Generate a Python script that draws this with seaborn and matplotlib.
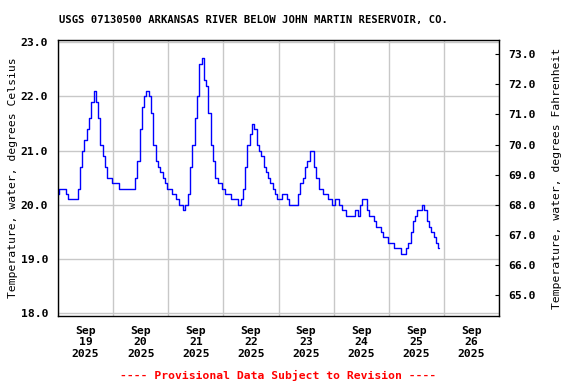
import pandas as pd
import matplotlib
matplotlib.use("Agg")
import matplotlib.pyplot as plt
import matplotlib.dates as mdates
import matplotlib.ticker as mticker
import seaborn as sns

# hourly water temperature (deg C), starting Sep 19 2025 00:00
start = "2025-09-19 00:00"
temp_c = [
    # Sep 19
    20.2, 20.3, 20.3, 20.3, 20.2, 20.1, 20.1, 20.1, 20.1, 20.3, 20.7, 21.0,
    21.2, 21.4, 21.6, 21.9, 22.1, 21.9, 21.6, 21.1, 20.9, 20.7, 20.5, 20.5,
    # Sep 20
    20.4, 20.4, 20.4, 20.3, 20.3, 20.3, 20.3, 20.3, 20.3, 20.3, 20.5, 20.8,
    21.4, 21.8, 22.0, 22.1, 22.0, 21.7, 21.1, 20.8, 20.7, 20.6, 20.5, 20.4,
    # Sep 21
    20.3, 20.3, 20.2, 20.2, 20.1, 20.0, 20.0, 19.9, 20.0, 20.2, 20.7, 21.1,
    21.6, 22.0, 22.6, 22.7, 22.3, 22.2, 21.7, 21.1, 20.8, 20.5, 20.4, 20.4,
    # Sep 22
    20.3, 20.2, 20.2, 20.2, 20.1, 20.1, 20.1, 20.0, 20.1, 20.3, 20.7, 21.1,
    21.3, 21.5, 21.4, 21.1, 21.0, 20.9, 20.7, 20.6, 20.5, 20.4, 20.3, 20.2,
    # Sep 23
    20.1, 20.1, 20.2, 20.2, 20.1, 20.0, 20.0, 20.0, 20.0, 20.2, 20.4, 20.5,
    20.7, 20.8, 21.0, 21.0, 20.7, 20.5, 20.3, 20.3, 20.2, 20.2, 20.1, 20.1,
    # Sep 24
    20.0, 20.1, 20.1, 20.0, 19.9, 19.9, 19.8, 19.8, 19.8, 19.8, 19.9, 19.8,
    20.0, 20.1, 20.1, 19.9, 19.8, 19.8, 19.7, 19.6, 19.6, 19.5, 19.4, 19.4,
    # Sep 25
    19.3, 19.3, 19.3, 19.2, 19.2, 19.2, 19.1, 19.1, 19.2, 19.3, 19.5, 19.7,
    19.8, 19.9, 19.9, 20.0, 19.9, 19.7, 19.6, 19.5, 19.4, 19.3, 19.2,
]
day_labels = ["Sep\n19\n2025", "Sep\n20\n2025", "Sep\n21\n2025", "Sep\n22\n2025",
              "Sep\n23\n2025", "Sep\n24\n2025", "Sep\n25\n2025", "Sep\n26\n2025"]
title = "USGS 07130500 ARKANSAS RIVER BELOW JOHN MARTIN RESERVOIR, CO."
c_ticks = [18.0, 19.0, 20.0, 21.0, 22.0, 23.0]
f_ticks = [65.0, 66.0, 67.0, 68.0, 69.0, 70.0, 71.0, 72.0, 73.0]

df = pd.DataFrame({
    "time": pd.date_range(start, periods=len(temp_c), freq="h"),
    "temp": temp_c,
})

sns.set_style("white")
plt.rcParams["font.family"] = ["DejaVu Sans Mono"]
plt.rcParams["font.weight"] = "bold"
plt.rcParams["text.color"] = "black"
plt.rcParams["axes.labelcolor"] = "black"
plt.rcParams["xtick.color"] = "black"
plt.rcParams["ytick.color"] = "black"

fig = plt.figure(figsize=(5.76, 3.84), dpi=100)
ax = fig.add_axes([58 / 576, 1 - 316 / 384, 441 / 576, 276 / 384])

sns.lineplot(data=df, x="time", y="temp", ax=ax, color="#0000ff",
             linewidth=1.0, estimator=None, drawstyle="steps-mid")

ylo, yhi = 17.95, 23.04
ax.set_ylim(ylo, yhi)
ax.set_xlim(pd.Timestamp("2025-09-19"), pd.Timestamp("2025-09-27"))

# grid at midnight, labels at noon
ax.xaxis.set_major_locator(mdates.DayLocator())
ax.xaxis.set_major_formatter(mticker.NullFormatter())
ax.xaxis.set_minor_locator(mdates.HourLocator(byhour=12))
ax.xaxis.set_minor_formatter(mticker.FixedFormatter(day_labels))
ax.tick_params(axis="x", which="both", length=0, labelsize=8.2, pad=7)
ax.set_yticks(c_ticks)
ax.yaxis.set_major_formatter(mticker.FormatStrFormatter("%.1f"))
ax.tick_params(axis="y", length=0, labelsize=8.2, pad=7)
ax.grid(True, which="major", color="#c8c8c8", linewidth=1.0)
ax.set_xlabel("")
ax.set_ylabel("Temperature, water, degrees Celsius", fontsize=8.2, labelpad=2)
for s in ax.spines.values():
    s.set_color("black")
    s.set_linewidth(1.0)

ax2 = ax.twinx()
ax2.set_ylim(ylo * 1.8 + 32, yhi * 1.8 + 32)
ax2.set_yticks(f_ticks)
ax2.yaxis.set_major_formatter(mticker.FormatStrFormatter("%.1f"))
ax2.tick_params(axis="y", direction="in", length=3, labelsize=8.2, pad=7)
ax2.set_ylabel("Temperature, water, degrees Fahrenheit", fontsize=8.2, labelpad=11)
ax2.grid(False)
for s in ax2.spines.values():
    s.set_visible(False)

fig.text(253 / 576, 1 - 20 / 384, title, ha="center", va="center",
         fontsize=7.6, fontweight="bold")
fig.text(278 / 576, 1 - 375 / 384, "---- Provisional Data Subject to Revision ----",
         ha="center", va="center", fontsize=8.2, fontweight="bold", color="#ff0000")

fig.savefig("out.png", dpi=100, facecolor="white")
